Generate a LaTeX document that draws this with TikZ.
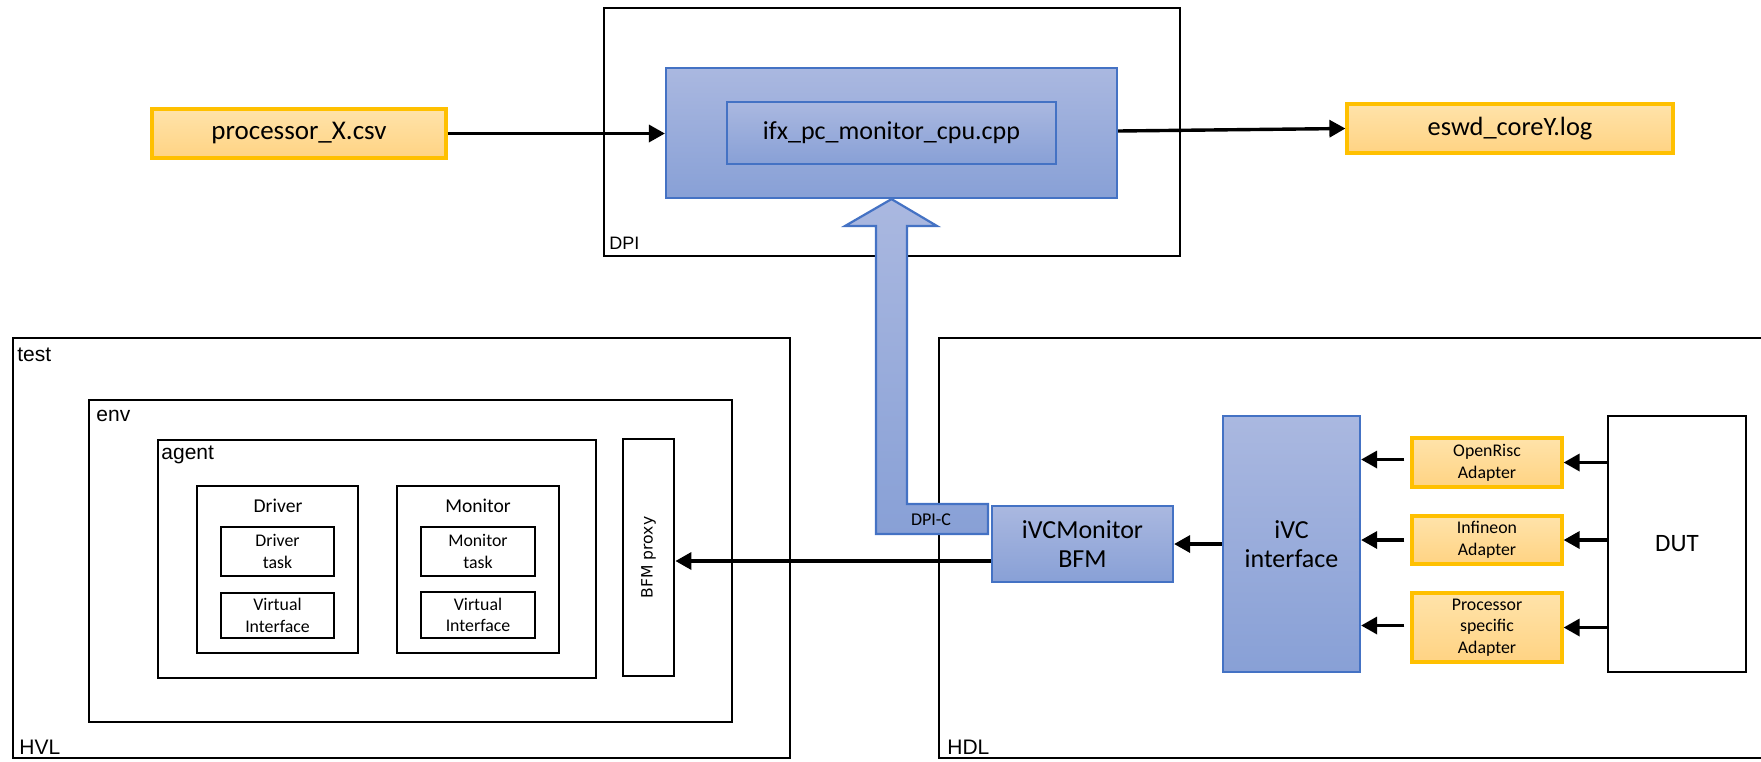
\documentclass[tikz,border=0pt]{standalone}
\usepackage{fontspec}
\setmainfont{Carlito}
\newfontfamily\arialf{Liberation Sans}
\newfontfamily\dejavuf{DejaVu Sans}
\usetikzlibrary{arrows.meta}
\definecolor{bluebd}{HTML}{4472C4}
\definecolor{bluetop}{HTML}{AAB8E0}
\definecolor{bluebot}{HTML}{88A0D6}
\definecolor{orgbd}{HTML}{FFC000}
\definecolor{orgtop}{HTML}{FFE3AA}
\definecolor{orgbot}{HTML}{FFD383}
\begin{document}
\begin{tikzpicture}[x=0.5pt,y=-0.5pt,
  blk/.style={draw=black, line width=1.4pt, fill=white, inner sep=0pt},
  bluebox/.style={draw=bluebd, line width=1.1pt, top color=bluetop, bottom color=bluebot, inner sep=0pt, align=center, font=\fontsize{13}{14.5}\selectfont},
  orgbox/.style={draw=orgbd, line width=1.6pt, top color=orgtop, bottom color=orgbot, inner sep=0pt, align=center},
  arr/.style={line width=1.7pt, -{Triangle[length=8pt,width=8.5pt]}},
  lbl/.style={inner sep=0pt, anchor=west, font=\arialf\fontsize{10.5}{12}\selectfont},
  small/.style={inner sep=0pt, align=center, font=\fontsize{8.9}{10.8}\selectfont},
  head/.style={inner sep=0pt, font=\fontsize{9.8}{11}\selectfont}
]
\useasboundingbox (0,0) rectangle (1761,761);
\clip (0,0) rectangle (1761,761);

% DPI region
\node[blk, minimum width=288pt, minimum height=124pt] (dpi) at (892,132) {};
\node[inner sep=0pt, anchor=west, font=\arialf\fontsize{9}{11}\selectfont] (dpilbl) at (609,243) {DPI};
\node[bluebox, minimum width=225.5pt, minimum height=65pt] (cpuouter) at (891.5,133) {};
\node[bluebox, minimum width=164.5pt, minimum height=31pt] (cpuinner) at (891.5,133) {ifx\_pc\_monitor\_cpu.cpp};

\node[orgbox, minimum width=147pt, minimum height=24.5pt, font=\fontsize{13.5}{15}\selectfont] (csv) at (299,133.5) {processor\_X.csv};
\node[orgbox, minimum width=163pt, minimum height=24.5pt, font=\fontsize{13.2}{15}\selectfont] (log) at (1510,128.5) {eswd\_coreY.log};

\draw[arr] (csv.east) -- (cpuouter.west |- csv.east);
\draw[arr] ([yshift=1pt]cpuouter.east) -- (log.west);

% HVL side
\node[blk, minimum width=388.5pt, minimum height=210pt] (test) at (401.5,548) {};
\node[lbl] (testlbl) at (17,355) {test};
\node[lbl] (hvllbl) at (19,747) {HVL};
\node[blk, minimum width=321.5pt, minimum height=161pt] (env) at (410.5,561) {};
\node[lbl] (envlbl) at (96,416) {env};
\node[blk, minimum width=219pt, minimum height=119pt] (agent) at (377,559) {};
\node[lbl] (agentlbl) at (161,455) {agent};

\node[blk, minimum width=80.5pt, minimum height=83.5pt] (driver) at (277.5,569.5) {};
\node[head] (driverlbl) at (278,506) {Driver};
\node[blk, minimum width=56.5pt, minimum height=24.5pt, small] (drvtask) at (277.5,551.5) {Driver\\task};
\node[blk, minimum width=56.5pt, minimum height=22.5pt, small] (drvvi) at (277.5,615.5) {Virtual\\Interface};

\node[blk, minimum width=81pt, minimum height=83.5pt] (monitor) at (478,569.5) {};
\node[head] (monitorlbl) at (478,506) {Monitor};
\node[blk, minimum width=57pt, minimum height=24.5pt, small] (montask) at (478,551.5) {Monitor\\task};
\node[blk, minimum width=57pt, minimum height=23pt, small] (monvi) at (478,615) {Virtual\\Interface};

\node[blk, rotate=90, minimum width=118.5pt, minimum height=25.5pt, font=\dejavuf\fontsize{7.8}{9}\selectfont] (proxy) at (648.5,557.5) {BFM proxy};

% HDL side
\draw[line width=1.4pt] (1790,338) -- (939,338) coordinate (hdltl) -- (939,758) coordinate (hdlbl) -- (1790,758);
\node[lbl] (hdllbl) at (947,747) {HDL};

\node[bluebox, minimum width=90.5pt, minimum height=38pt] (bfm) at (1082.5,544) {iVCMonitor\\BFM};
\node[bluebox, minimum width=68.5pt, minimum height=128pt] (ivc) at (1291.5,544) {iVC\\interface};
\node[orgbox, minimum width=75pt, minimum height=24.5pt, small] (openrisc) at (1487,462.5) {OpenRisc\\Adapter};
\node[orgbox, minimum width=75pt, minimum height=24pt, small] (infineon) at (1487,540) {Infineon\\Adapter};
\node[orgbox, minimum width=75pt, minimum height=34.5pt, small] (procspec) at (1487,627.5) {Processor\\specific\\Adapter};
\node[blk, minimum width=69pt, minimum height=128pt, font=\fontsize{12.5}{14}\selectfont] (dut) at (1677,544) {DUT};

% connectors
\draw[arr] ([yshift=-8.5pt]bfm.west) -- ([yshift=-8.5pt]bfm.west -| proxy.south);
\draw[arr] (ivc.west) -- (bfm.east);
\draw[arr] ([xshift=-3pt,yshift=1.5pt]openrisc.west) -- ([yshift=1.5pt]openrisc.west -| ivc.east);
\draw[arr] ([xshift=-3pt]infineon.west) -- (infineon.west -| ivc.east);
\draw[arr] ([xshift=-3pt,yshift=1pt]procspec.west) -- ([yshift=1pt]procspec.west -| ivc.east);
\draw[arr] (dut.west |- openrisc.east) -- (openrisc.east);
\draw[arr] (dut.west |- infineon.east) -- (infineon.east);
\draw[arr] (dut.west |- procspec.east) -- (procspec.east);

% DPI-C hollow arrow
\draw[draw=bluebd, line width=1.1pt, top color=bluetop, bottom color=bluebot, line join=miter]
  (cpuouter.south) -- (937,226) -- (907,226) -- (907,504) -- (988,504) -- (988,534)
  -- (876,534) -- (876,226) -- (845,226) -- cycle;
\node[inner sep=0pt, font=\fontsize{9}{11}\selectfont] (dpic) at (931,520) {DPI-C};
\end{tikzpicture}
\end{document}
